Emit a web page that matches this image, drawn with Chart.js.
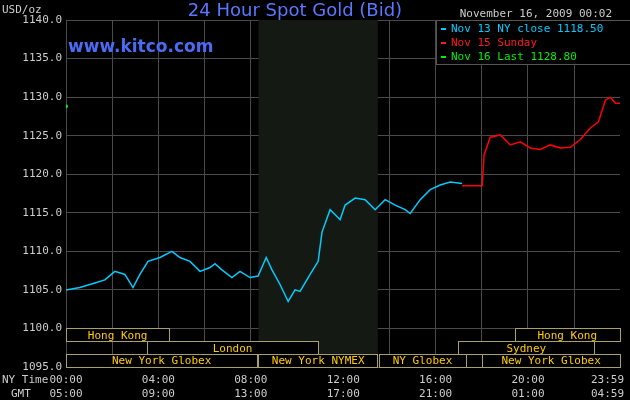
<!DOCTYPE html>
<html>
<head>
<meta charset="utf-8">
<script src="https://cdn.jsdelivr.net/npm/chart.js@4"></script>
<style>
  html, body { margin: 0; padding: 0; background: #000; }
  #wrap { width: 630px; height: 400px; }
</style>
</head>
<body>
<div id="wrap"><canvas id="gold"></canvas></div>
<script>
// minutes after 00:00 NY time
const nyMinutes = [0, 36, 75, 101, 127, 153, 174, 192, 213, 244, 275, 296, 322, 348, 374, 387, 405, 431, 452, 478,
  499, 520, 535, 556, 577, 595, 608, 634, 655, 665, 686, 712, 725, 751, 777, 803, 829, 855, 881, 894, 920, 946, 972, 998, 1029];
const nyPrices = [1105.0, 1105.3, 1105.9, 1106.3, 1107.4, 1107.0, 1105.3, 1107.0, 1108.7, 1109.2, 1110.0, 1109.2, 1108.7, 1107.4, 1107.9, 1108.4, 1107.6, 1106.6, 1107.4, 1106.6,
  1106.8, 1109.2, 1107.6, 1105.7, 1103.5, 1105.0, 1104.8, 1107.0, 1108.7, 1112.5, 1115.4, 1114.1, 1116.0, 1116.9, 1116.7, 1115.4, 1116.7, 1116.0, 1115.4, 1114.9, 1116.7, 1118.0, 1118.6, 1119.0, 1118.8];
const sunMinutes = [1029, 1081, 1086, 1102, 1128, 1154, 1180, 1206, 1232, 1258, 1284, 1310, 1336, 1362, 1383, 1401, 1414, 1427, 1439];
const sunPrices = [1118.5, 1118.5, 1122.5, 1124.8, 1125.1, 1123.8, 1124.2, 1123.4, 1123.2, 1123.8, 1123.4, 1123.5, 1124.5, 1126.0, 1126.8, 1129.6, 1130.0, 1129.2, 1129.2];
const lastMinutes = [0];
const lastPrices = [1128.8];

const timeLabels = ['00:00', '04:00', '08:00', '12:00', '16:00', '20:00', '23:59'];
const gmtLabels = ['05:00', '09:00', '13:00', '17:00', '21:00', '01:00', '04:59'];
const labelMinutes = [0, 240, 480, 720, 960, 1200, 1439];

const legendTexts = ['Nov 13 NY close 1118.50', 'Nov 15 Sunday', 'Nov 16 Last 1128.80'];
const legendColors = ['#00ccff', '#ff1a1a', '#00ee00'];

// trading sessions: [name, start minute, end minute, row]
const sessions = [
  ['Hong Kong', 0, 268, 0],
  ['Hong Kong', 1165, 1439, 0],
  ['London', 210, 655, 1],
  ['Sydney', 1019, 1372, 1],
  ['New York Globex', 0, 497, 2],
  ['New York NYMEX', 500, 810, 2],
  ['NY Globex', 812, 1040, 2],
  ['', 1040, 1081, 2],
  ['New York Globex', 1081, 1439, 2]
];
const nymexBand = [500, 810];

const mono = '"DejaVu Sans Mono", monospace';

const kitcoPlugin = {
  id: 'kitco',
  beforeDatasetsDraw(chart) {
    const { ctx, chartArea: a, scales: { x } } = chart;
    ctx.save();
    ctx.fillStyle = '#151914';
    ctx.fillRect(x.getPixelForValue(nymexBand[0]), a.top, x.getPixelForValue(nymexBand[1]) - x.getPixelForValue(nymexBand[0]), a.bottom - a.top);
    ctx.restore();
  },
  afterDatasetsDraw(chart) {
    const { ctx, chartArea: a, scales: { x, y } } = chart;
    ctx.save();
    // session boxes
    const rowTop = y.getPixelForValue(1100);
    const rowH = (a.bottom - rowTop) / 3;
    ctx.font = '11px ' + mono;
    ctx.textBaseline = 'middle';
    ctx.textAlign = 'center';
    sessions.forEach(([name, s, e, row]) => {
      const x0 = x.getPixelForValue(s), x1 = x.getPixelForValue(e);
      const y0 = rowTop + row * rowH;
      ctx.fillStyle = '#000';
      ctx.fillRect(x0, y0, x1 - x0, rowH);
      ctx.strokeStyle = '#a8a068';
      ctx.lineWidth = 1;
      ctx.strokeRect(Math.round(x0) + 0.5, Math.round(y0) + 0.5, Math.round(x1 - x0), Math.round(rowH));
      ctx.fillStyle = '#ffcc00';
      ctx.fillText(name, (x0 + x1) / 2, y0 + rowH / 2 + 1);
    });

    // legend box
    const lx = 436, ly = 20;
    ctx.fillStyle = '#000';
    ctx.fillRect(lx, ly, 630 - lx, 44);
    ctx.strokeStyle = '#555';
    ctx.strokeRect(lx + 0.5, ly + 0.5, 630 - lx, 44);
    ctx.textAlign = 'left';
    ctx.font = '11px ' + mono;
    legendTexts.forEach((t, i) => {
      ctx.fillStyle = legendColors[i];
      ctx.fillRect(441, ly + 8 + i * 14, 5, 2);
      ctx.fillText(t, 451, ly + 9 + i * 14);
    });
    ctx.restore();
  },
  afterDraw(chart) {
    const { ctx, scales: { x } } = chart;
    ctx.save();
    ctx.font = '11px ' + mono;
    ctx.textBaseline = 'middle';
    ctx.fillStyle = '#cccccc';
    ctx.textAlign = 'left';
    ctx.fillText('USD/oz', 2, 10);
    ctx.fillText('NY Time', 2, 380);
    ctx.fillText('GMT', 11, 394);
    labelMinutes.forEach((m, i) => {
      const last = i === labelMinutes.length - 1;
      ctx.textAlign = last ? 'right' : 'center';
      const px = last ? 624 : x.getPixelForValue(m);
      ctx.fillText(timeLabels[i], px, 380);
      ctx.fillText(gmtLabels[i], px, 394);
    });
    ctx.textAlign = 'right';
    ctx.fillText('November 16, 2009 00:02', 612, 14);
    ctx.textAlign = 'center';
    ctx.fillStyle = '#5a78ff';
    ctx.font = '18px "DejaVu Sans"';
    ctx.fillText('24 Hour Spot Gold (Bid)', 295, 11);
    ctx.textAlign = 'left';
    ctx.fillStyle = '#4a6cf4';
    ctx.font = 'bold 17px "DejaVu Sans"';
    ctx.fillText('www.kitco.com', 68, 48);
    ctx.restore();
  }
};

const toXY = (xs, ys) => xs.map((m, i) => ({ x: m, y: ys[i] }));

new Chart(document.getElementById('gold'), {
  type: 'line',
  data: {
    datasets: [
      { data: toXY(nyMinutes, nyPrices), borderColor: '#00ccff', borderWidth: 1.5, pointRadius: 0, tension: 0 },
      { data: toXY(sunMinutes, sunPrices), borderColor: '#ff0000', borderWidth: 1.5, pointRadius: 0, tension: 0 },
      { data: toXY(lastMinutes, lastPrices), borderColor: '#00ff00', backgroundColor: '#00ff00', pointRadius: 1.5, showLine: false }
    ]
  },
  options: {
    responsive: true,
    maintainAspectRatio: false,
    animation: false,
    layout: { padding: { top: 20, right: 10, left: 0, bottom: 0 } },
    plugins: { legend: { display: false }, tooltip: { enabled: false } },
    scales: {
      x: {
        type: 'linear', min: 0, max: 1439,
        afterBuildTicks: s => { s.ticks = [0, 120, 240, 360, 480, 600, 720, 840, 960, 1080, 1200, 1320].map(v => ({ value: v })); },
        afterFit: s => { s.height = 33; },
        ticks: { display: false },
        grid: { color: '#4a4a4a', drawTicks: false },
        border: { color: '#4a4a4a' }
      },
      y: {
        min: 1095, max: 1140,
        afterFit: s => { s.width = 66; },
        ticks: { stepSize: 5, color: '#cccccc', font: { family: mono, size: 11 }, padding: 4, callback: v => v.toFixed(1) },
        grid: { color: '#4a4a4a', drawTicks: false },
        border: { color: '#4a4a4a' }
      }
    }
  },
  plugins: [kitcoPlugin]
});
</script>
</body>
</html>
